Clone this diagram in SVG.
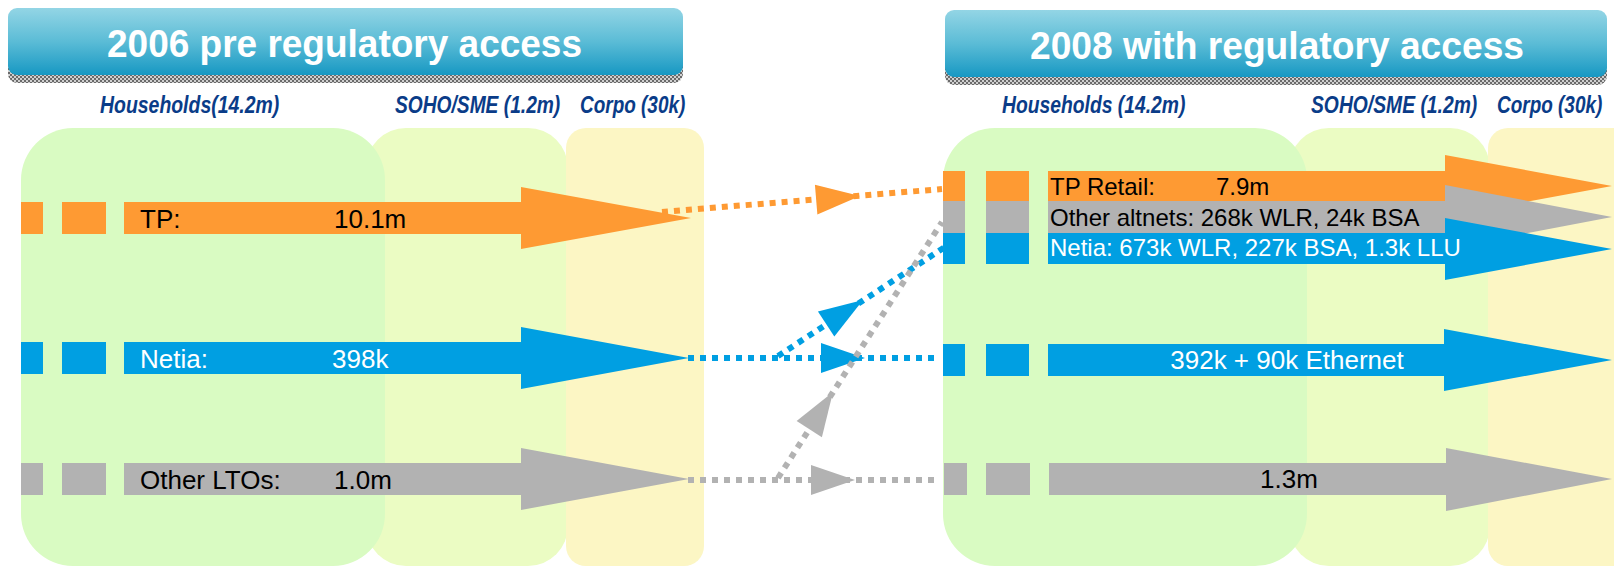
<svg xmlns="http://www.w3.org/2000/svg" width="1614" height="566" viewBox="0 0 1614 566">
<defs>
<linearGradient id="hdr" x1="0" y1="0" x2="0" y2="1">
<stop offset="0" stop-color="#93d5e5"/>
<stop offset="0.5" stop-color="#5bbcd6"/>
<stop offset="1" stop-color="#1798c3"/>
</linearGradient>
<pattern id="chk" width="4" height="4" patternUnits="userSpaceOnUse">
<rect width="4" height="4" fill="#d0d0d0"/>
<rect width="2" height="2" fill="#6a6a6a"/>
<rect x="2" y="2" width="2" height="2" fill="#6a6a6a"/>
</pattern>
<path id="ah" d="M0,0 L-44,-15 L-44,15 Z"/>
</defs>
<style>
.title{font-family:"Liberation Sans",Arial,sans-serif;font-weight:bold;font-size:38px;fill:#ffffff}
.seg{font-family:"Liberation Sans",Arial,sans-serif;font-weight:bold;font-style:italic;font-size:24px;fill:#0a3c88}
.t26{font-family:"Liberation Sans",Arial,sans-serif;font-size:26px}
.t24{font-family:"Liberation Sans",Arial,sans-serif;font-size:24px}
.blk{fill:#000000}
.wht{fill:#ffffff}
.or{fill:#fe9a33}
.bl{fill:#009fe2}
.gr{fill:#b2b2b2}
.zg{fill:#d9fbc2}
.zs{fill:#ebfcc3}
.zc{fill:#fcf6c4}
.dot{fill:none;stroke-width:6;stroke-dasharray:6 6}
.dor{stroke:#fe9a33}
.dbl{stroke:#009fe2}
.dgr{stroke:#b2b2b2}
</style>

<g id="zones-left">
<rect class="zs" x="366" y="128" width="202" height="438" rx="40"/>
<rect class="zc" x="566" y="128" width="138" height="438" rx="20"/>
<rect class="zg" x="21" y="128" width="364" height="438" rx="52"/>
</g>
<g id="zones-right">
<rect class="zs" x="1289" y="128" width="201" height="438" rx="40"/>
<rect class="zc" x="1488" y="128" width="150" height="438" rx="20"/>
<rect class="zg" x="943" y="128" width="364" height="438" rx="52"/>
</g>

<g id="header-left">
<rect x="8" y="16" width="675" height="67" rx="9" fill="url(#chk)"/>
<rect x="8" y="8" width="675" height="67" rx="9" fill="url(#hdr)"/>
<text class="title" x="107" y="57" textLength="475" lengthAdjust="spacingAndGlyphs">2006 pre regulatory access</text>
</g>
<g id="header-right">
<rect x="945" y="18" width="662" height="67" rx="9" fill="url(#chk)"/>
<rect x="945" y="10" width="662" height="67" rx="9" fill="url(#hdr)"/>
<text class="title" x="1030" y="59" textLength="494" lengthAdjust="spacingAndGlyphs">2008 with regulatory access</text>
</g>

<g id="segment-labels">
<text class="seg" transform="translate(100,113) scale(0.81,1)">Households(14.2m)</text>
<text class="seg" transform="translate(395,113) scale(0.8,1)">SOHO/SME (1.2m)</text>
<text class="seg" transform="translate(580,113) scale(0.79,1)">Corpo (30k)</text>
<text class="seg" transform="translate(1002,113) scale(0.805,1)">Households (14.2m)</text>
<text class="seg" transform="translate(1311,113) scale(0.805,1)">SOHO/SME (1.2m)</text>
<text class="seg" transform="translate(1497,113) scale(0.79,1)">Corpo (30k)</text>
</g>

<g id="left-tp">
<rect class="or" x="21" y="202" width="22" height="32"/>
<rect class="or" x="62" y="202" width="44" height="32"/>
<path class="or" d="M124,202 H521 V187 L691,218 L521,249 V234 H124 Z"/>
<text class="t26 blk" x="140" y="228">TP:</text>
<text class="t26 blk" x="334" y="228">10.1m</text>
</g>
<g id="left-netia">
<rect class="bl" x="21" y="342" width="22" height="32"/>
<rect class="bl" x="62" y="342" width="44" height="32"/>
<path class="bl" d="M124,342 H521 V327 L689,358 L521,389 V374 H124 Z"/>
<text class="t26 wht" x="140" y="368">Netia:</text>
<text class="t26 wht" x="332" y="368">398k</text>
</g>
<g id="left-lto">
<rect class="gr" x="21" y="463" width="22" height="32"/>
<rect class="gr" x="62" y="463" width="44" height="32"/>
<path class="gr" d="M124,463 H521 V448 L689,479 L521,510 V495 H124 Z"/>
<text class="t26 blk" x="140" y="489">Other LTOs:</text>
<text class="t26 blk" x="334" y="489">1.0m</text>
</g>

<g id="right-tp">
<rect class="or" x="943" y="171" width="22" height="30"/>
<rect class="or" x="986" y="171" width="43" height="30"/>
<path class="or" d="M1048,171 H1445 V155 L1612,186 L1445,217 V201 H1048 Z"/>
<text class="t24 blk" x="1050" y="195">TP Retail:</text>
<text class="t24 blk" x="1216" y="195">7.9m</text>
</g>
<g id="right-other">
<rect class="gr" x="943" y="201" width="22" height="32"/>
<rect class="gr" x="986" y="201" width="43" height="32"/>
<path class="gr" d="M1048,201 H1445 V185 L1612,217 L1445,249 V233 H1048 Z"/>
<text class="t24 blk" x="1050" y="226">Other altnets: 268k WLR, 24k BSA</text>
</g>
<g id="right-netia-wholesale">
<rect class="bl" x="943" y="233" width="22" height="31"/>
<rect class="bl" x="986" y="233" width="43" height="31"/>
<path class="bl" d="M1048,233 H1445 V218 L1612,249 L1445,280 V264 H1048 Z"/>
<text class="t24 wht" x="1050" y="256">Netia: 673k WLR, 227k BSA, 1.3k LLU</text>
</g>
<g id="right-netia">
<rect class="bl" x="943" y="344" width="22" height="32"/>
<rect class="bl" x="986" y="344" width="43" height="32"/>
<path class="bl" d="M1048,344 H1444 V329 L1612,360 L1444,391 V376 H1048 Z"/>
<text class="t26 wht" x="1287" y="369" text-anchor="middle">392k + 90k Ethernet</text>
</g>
<g id="right-lto">
<rect class="gr" x="944" y="463" width="23" height="32"/>
<rect class="gr" x="986" y="463" width="44" height="32"/>
<path class="gr" d="M1049,463 H1446 V448 L1612,479 L1446,511 V495 H1049 Z"/>
<text class="t26 blk" x="1289" y="488" text-anchor="middle">1.3m</text>
</g>

<g id="connectors">
<line class="dot dor" x1="662" y1="212" x2="942" y2="189"/>
<use href="#ah" class="or" transform="translate(860,196) rotate(-4.7)"/>
<line class="dot dbl" x1="688" y1="358" x2="940" y2="358"/>
<use href="#ah" class="bl" transform="translate(865,358)"/>
<line class="dot dbl" x1="778" y1="356" x2="945" y2="247"/>
<use href="#ah" class="bl" transform="translate(863,300) rotate(-33.1)"/>
<line class="dot dgr" x1="688" y1="480" x2="940" y2="480"/>
<use href="#ah" class="gr" transform="translate(855,480)"/>
<line class="dot dgr" x1="778" y1="478" x2="942" y2="222"/>
<use href="#ah" class="gr" transform="translate(833,392) rotate(-57.35)"/>
</g>
</svg>
